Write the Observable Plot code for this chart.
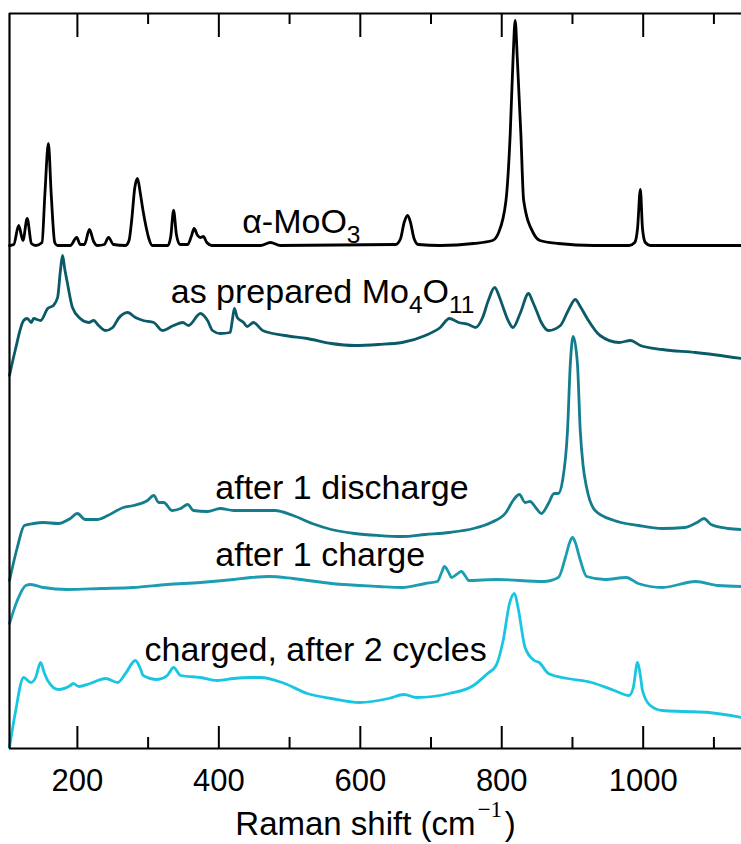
<!DOCTYPE html>
<html>
<head>
<meta charset="utf-8">
<script src="https://cdn.jsdelivr.net/npm/d3@7"></script>
<script src="https://cdn.jsdelivr.net/npm/@observablehq/plot@0.6"></script>
<style>
  html, body { margin: 0; padding: 0; background: #fff; }
  #chart { width: 741px; height: 844px; }
</style>
</head>
<body>
<div id="chart"></div>
<script>
// Raman spectra (stacked, arbitrary intensity units) — [shift cm^-1, intensity]
const moo3 = [
  [104,503],[110,504],[117,523],[123,508],[129,530],[135,505],[141,503],[150,506],[154,554],[159,605],
  [163,554],[168,506],[172,503],[190,503],[199,511],[204,504],[210,504],[217,519],[223,507],[228,503],
  [238,504],[244,511],[251,504],[268,503],[273,508],[277,530],[281,560],[285,570],[289,555],[293,537],
  [297,522],[301,510],[306,503],[328,503],[332,512],[336,538],[340,514],[345,504],[356,504],[361,512],
  [365,520],[370,513],[374,511],[378,512],[383,506],[390,503],[459,503],[473,506],[487,503],[650,504],
  [657,510],[662,526],[667,533],[671,526],[676,510],[682,504],[713,503],[760,505],[787,508],[795,515],
  [806,548],[812,615],[816,690],[819,728],[822,690],[827,615],[831,548],[845,515],[854,508],[880,505],
  [930,503],[980,503],[988,506],[992,520],[996,559],[999,520],[1003,506],[1010,503],[1139,503]
];
const asPrepared = [
  [104,373],[112,398],[124,428],[129,430],[135,426],[138,430],[148,428],[158,440],[166,443],[172,451],
  [176,478],[179,493],[182,480],[186,465],[193,441],[204,430],[216,426],[223,428],[230,423],[240,418],
  [250,421],[258,430],[271,436],[282,431],[293,428],[308,426],[320,418],[336,423],[349,426],[357,423],
  [374,435],[384,428],[391,418],[402,415],[416,416],[419,428],[422,440],[426,431],[435,426],[440,422],
  [449,426],[462,418],[493,413],[525,410],[559,405],[592,403],[626,404],[659,406],[692,413],[713,421],
  [726,430],[739,426],[753,424],[763,421],[773,431],[781,448],[790,461],[797,451],[802,441],[809,428],
  [816,421],[826,435],[838,455],[843,448],[849,438],[856,426],[866,418],[883,423],[894,438],[904,449],
  [911,442],[920,431],[939,413],[966,406],[982,408],[996,403],[1027,399],[1074,396],[1139,390]
];
const discharged = [
  [104,168],[115,201],[125,223],[138,225],[152,226],[173,225],[190,230],[200,235],[211,229],[228,229],
  [243,233],[265,241],[279,243],[299,248],[308,253],[315,246],[322,246],[334,238],[346,240],[356,244],
  [364,238],[384,237],[402,240],[421,238],[445,238],[479,238],[505,233],[532,225],[559,219],[592,215],
  [626,213],[659,212],[692,214],[726,216],[760,220],[785,226],[806,236],[816,248],[825,254],[833,246],
  [840,247],[849,240],[856,235],[866,245],[874,255],[880,255],[886,268],[893,318],[897,385],[901,412],
  [907,385],[911,318],[915,283],[920,261],[932,238],[959,228],[993,223],[1027,220],[1059,221],[1076,226],
  [1086,230],[1096,224],[1120,220],[1139,219]
];
const charged = [
  [104,125],[115,148],[127,163],[134,164],[152,161],[186,159],[233,160],[279,161],[327,164],[374,166],
  [421,169],[445,171],[471,172],[505,170],[559,165],[626,162],[659,161],[692,165],[709,167],[715,176],
  [719,182],[725,176],[729,171],[736,174],[743,177],[749,172],[753,168],[792,169],[859,167],[880,171],
  [890,191],[896,206],[900,211],[904,206],[910,191],[920,172],[946,169],[976,171],[993,165],[1027,161],
  [1074,167],[1106,163],[1139,162]
];
const cycled = [
  [104,1],[112,35],[124,71],[134,66],[141,71],[148,86],[153,76],[158,68],[173,59],[190,63],
  [194,65],[202,62],[218,65],[240,70],[257,66],[268,75],[282,88],[289,80],[293,73],[313,69],
  [327,73],[336,81],[346,73],[374,71],[398,68],[421,70],[445,71],[459,71],[493,65],[525,55],
  [559,50],[599,46],[640,50],[662,54],[679,51],[726,55],[760,63],[780,75],[792,83],[802,108],
  [811,145],[818,155],[823,141],[833,101],[846,88],[853,86],[866,75],[893,70],[927,66],[959,58],
  [980,53],[986,61],[992,86],[996,73],[999,58],[1010,43],[1027,38],[1059,37],[1093,36],[1139,31]
];

const seriesNames = ["α-MoO3", "as prepared Mo4O11", "after 1 discharge", "after 1 charge", "charged, after 2 cycles"];
const seriesData = [moo3, asPrepared, discharged, charged, cycled];
const seriesColors = ["#000000", "#0b5a68", "#137d8d", "#1b9db2", "#18c6e2"];

// curve labels: markup text, anchor shift, anchor intensity
const labelText = ["α-MoO_{3}", "as prepared Mo_{4}O_{11}", "after 1 discharge", "after 1 charge", "charged, after 2 cycles"];
const labelShift = [433, 332, 395, 395, 295];
const labelInt = [516, 446, 250, 183, 88];

const xDomain = [104, 1139];
const yDomain = [0, 735];
const majorTicks = [200, 400, 600, 800, 1000];
const minorTicks = [300, 500, 700, 900, 1100];
const xTitle = "Raman shift (cm^{−1})";

const rows = seriesData.flatMap((s, i) => s.map(([x, y]) => ({series: seriesNames[i], x, y})));
const labels = labelText.map((t, i) => ({t, x: labelShift[i], y: labelInt[i]}));

const W = 741, H = 844, mT = 13, mB = 96, mL = 9, mR = 0;
const plotH = H - mT - mB;
const font = "'Liberation Sans', Arial, Helvetica, sans-serif";

const chart = Plot.plot({
  width: W, height: H,
  marginTop: mT, marginBottom: mB, marginLeft: mL, marginRight: mR,
  style: {fontFamily: font, background: "#fff", overflow: "visible"},
  x: {domain: xDomain},
  y: {domain: yDomain, axis: null},
  color: {domain: seriesNames, range: seriesColors},
  marks: [
    Plot.line(rows, {x: "x", y: "y", z: "series", stroke: "series", strokeWidth: 2.8, curve: "monotone-x"}),
    // frame: top, bottom, left
    Plot.ruleY(yDomain, {stroke: "#000", strokeWidth: 2.2}),
    Plot.ruleX([xDomain[0]], {stroke: "#000", strokeWidth: 2.2}),
    // inward ticks, bottom and top
    Plot.tickX(majorTicks, {x: d => d, insetTop: plotH - 22, stroke: "#000", strokeWidth: 2}),
    Plot.tickX(minorTicks, {x: d => d, insetTop: plotH - 11, stroke: "#000", strokeWidth: 2}),
    Plot.tickX(majorTicks, {x: d => d, insetBottom: plotH - 24, stroke: "#000", strokeWidth: 2}),
    Plot.tickX(minorTicks, {x: d => d, insetBottom: plotH - 11, stroke: "#000", strokeWidth: 2}),
    Plot.axisX(majorTicks, {tickSize: 0, tickPadding: 20, fontSize: 31, fill: "#000", label: null,
      tickFormat: d => String(d)}),
    Plot.text(labels, {x: "x", y: "y", text: "t", textAnchor: "start", lineAnchor: "bottom",
      fontSize: 34, fill: "#000", className: "rich"}),
    Plot.text([xTitle], {frameAnchor: "bottom", dy: 86, lineAnchor: "bottom", fontSize: 33, fill: "#000", className: "rich"})
  ]
});

// turn _{..} and ^{..} markup into sub/superscript tspans
const NS = "http://www.w3.org/2000/svg";
chart.querySelectorAll(".rich text").forEach(el => {
  const src = el.textContent;
  const fs = parseFloat(el.closest("[font-size]")?.getAttribute("font-size")) || 34;
  el.textContent = "";
  const re = /([_^])\{([^}]*)\}/g;
  let last = 0, m, shift = 0;
  const push = (s, kind) => {
    if (!s) return;
    const t = document.createElementNS(NS, "tspan");
    t.textContent = s;
    let target = 0;
    if (kind === "_") { target = 0.3 * fs; t.setAttribute("font-size", 0.72 * fs); }
    if (kind === "^") {
      target = -0.52 * fs;
      t.setAttribute("font-size", 0.7 * fs);
      t.setAttribute("dx", 0.06 * fs);
      t.setAttribute("font-family", "'Liberation Serif', 'DejaVu Serif', serif");
    }
    if (!kind && shift === -0.52 * fs) t.setAttribute("dx", 0.08 * fs);
    if (target !== shift) { t.setAttribute("dy", target - shift); shift = target; }
    el.appendChild(t);
  };
  while ((m = re.exec(src))) {
    push(src.slice(last, m.index), null);
    push(m[2], m[1]);
    last = re.lastIndex;
  }
  push(src.slice(last), null);
});

document.getElementById("chart").appendChild(chart);
</script>
</body>
</html>
